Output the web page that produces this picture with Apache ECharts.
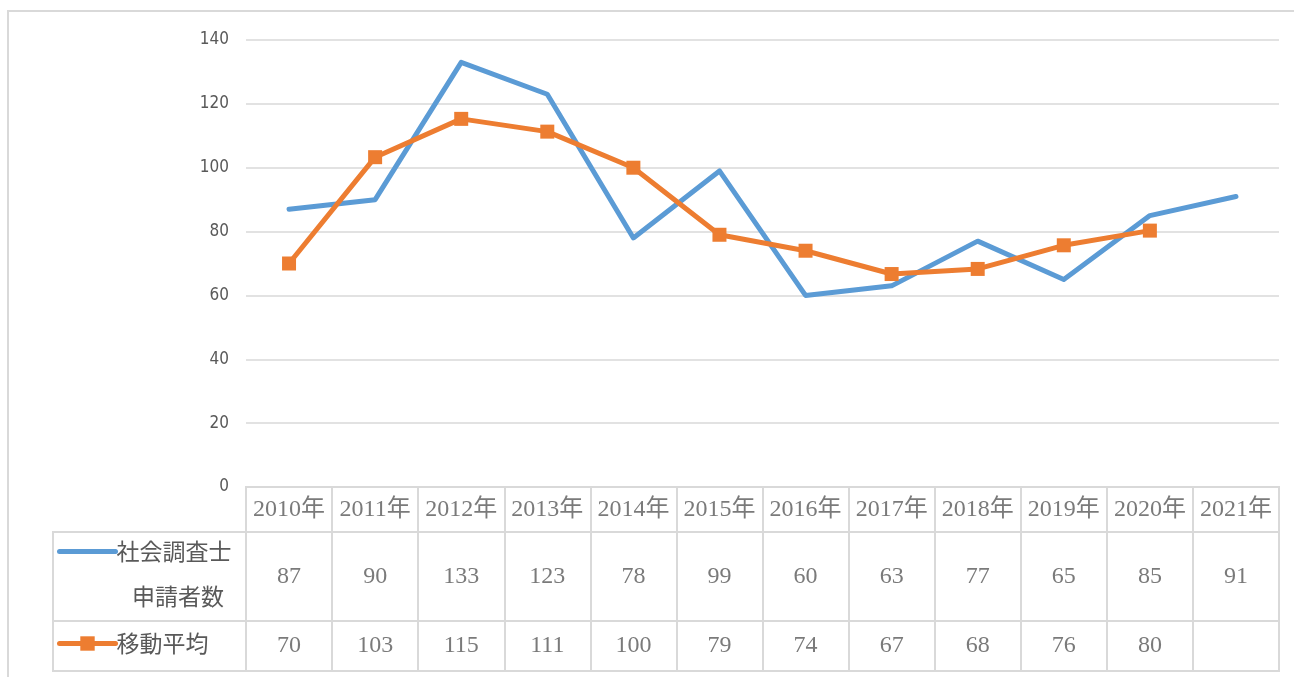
<!DOCTYPE html>
<html><head><meta charset="utf-8">
<script src="https://cdn.jsdelivr.net/npm/echarts@6/dist/echarts.min.js"></script>
<style>html,body{margin:0;padding:0;background:#fff}#c{width:1294px;height:677px}</style>
</head><body><div id="c"></div>
<script>
const categories = ['2010年','2011年','2012年','2013年','2014年','2015年','2016年','2017年','2018年','2019年','2020年','2021年'];
const applicants = [87, 90, 133, 123, 78, 99, 60, 63, 77, 65, 85, 91];
const movingAvg = [70, 103.3, 115.3, 111.3, 100, 79, 74, 66.7, 68.3, 75.7, 80.3, null];
const seriesNames = ['社会調査士申請者数', '移動平均'];
const yTicks = { min: 0, max: 140, interval: 20 };

const BLUE = '#5b9bd5', ORANGE = '#ed7d31', GRID = '#d9d9d9', TXT = '#595959';
const L = 246, W = 1033;
const serifFont = "'Liberation Serif', 'Noto Sans CJK JP', serif";
const cjkFont = "'Noto Sans CJK JP', sans-serif";

const chart = echarts.init(document.getElementById('c'), null, {renderer: 'canvas'});

const rows = [
  {top: 487, height: 45, texts: categories},
  {top: 532, height: 89, texts: applicants.map(v => v == null ? '' : String(Math.round(v)))},
  {top: 621, height: 50, texts: movingAvg.map(v => v == null ? '' : String(Math.round(v)))}
];

const grids = [{left: L, width: W, top: 40, height: 447, containLabel: false}];
const xAxes = [{
  gridIndex: 0, type: 'category', data: categories, boundaryGap: true,
  axisLine: {show: false}, axisTick: {show: false}, axisLabel: {show: false}, splitLine: {show: false}
}];
const yAxes = [{
  gridIndex: 0, type: 'value', min: yTicks.min, max: yTicks.max, interval: yTicks.interval,
  axisLine: {show: false}, axisTick: {show: false},
  axisLabel: {color: TXT, fontFamily: "'Liberation Sans Narrow', 'DejaVu Sans Condensed', sans-serif", fontSize: 17, margin: 17},
  splitLine: {lineStyle: {color: GRID, width: 1.5}}
}];
const series = [
  {name: seriesNames[0], type: 'line', xAxisIndex: 0, yAxisIndex: 0, data: applicants,
   symbol: 'none', lineStyle: {color: BLUE, width: 5, cap: 'round', join: 'round'}, itemStyle: {color: BLUE}, z: 3},
  {name: seriesNames[1], type: 'line', xAxisIndex: 0, yAxisIndex: 0, data: movingAvg,
   symbol: 'rect', symbolSize: 14, showSymbol: true,
   lineStyle: {color: ORANGE, width: 5, cap: 'round', join: 'round'}, itemStyle: {color: ORANGE}, z: 4}
];

rows.forEach((r, k) => {
  const gi = grids.length;
  grids.push({left: L, width: W, top: r.top, height: r.height, show: true, borderColor: GRID, borderWidth: 2, backgroundColor: 'transparent'});
  xAxes.push({gridIndex: gi, type: 'category', data: categories, boundaryGap: true,
    axisLine: {show: false}, axisTick: {show: false}, axisLabel: {show: false},
    splitLine: {show: true, interval: 0, lineStyle: {color: GRID, width: 2}}});
  yAxes.push({gridIndex: gi, type: 'value', min: 0, max: 1, show: false, splitLine: {show: false}});
  series.push({type: 'scatter', xAxisIndex: gi, yAxisIndex: gi, symbolSize: 0, silent: true,
    data: r.texts.map((t, i) => ({value: [i, 0.5], label: {formatter: t}})),
    label: {show: true, position: 'inside', color: TXT, fontFamily: serifFont, fontSize: 24}});
});

// legend column cells
[{top: 532, height: 89}, {top: 621, height: 50}].forEach(r => {
  const gi = grids.length;
  grids.push({left: 53, width: 193, top: r.top, height: r.height, show: true, borderColor: GRID, borderWidth: 2, backgroundColor: 'transparent'});
  xAxes.push({gridIndex: gi, type: 'value', show: false, splitLine: {show: false}});
  yAxes.push({gridIndex: gi, type: 'value', show: false, splitLine: {show: false}});
});

chart.setOption({
  animation: false,
  backgroundColor: '#fff',
  grid: grids, xAxis: xAxes, yAxis: yAxes, series: series,
  legend: [
    {data: [{name: seriesNames[0], itemStyle: {opacity: 0}}], left: 57, top: 540, padding: 0, itemWidth: 56, itemHeight: 18, itemGap: 0,
     lineStyle: {width: 5, cap: 'round'},
     formatter: () => '社会調査士', textStyle: {color: TXT, fontFamily: cjkFont, fontSize: 23, padding: [0, 0, 0, -4]}},
    {data: [seriesNames[1]], left: 57, top: 632, padding: 0, itemWidth: 56, itemHeight: 18, itemGap: 0,
     lineStyle: {width: 5, cap: 'round'},
     formatter: n => n, textStyle: {color: TXT, fontFamily: cjkFont, fontSize: 23, padding: [0, 0, 0, -4]}}
  ],
  graphic: [
    {type: 'rect', shape: {x: 8, y: 11, width: 1320, height: 700}, style: {fill: 'none', stroke: GRID, lineWidth: 2}, silent: true, z: -10},
    {type: 'text', x: 132, y: 596, style: {text: '申請者数', fill: TXT, font: "23px 'Noto Sans CJK JP', sans-serif", verticalAlign: 'middle'}, silent: true}
  ]
});
</script></body></html>
